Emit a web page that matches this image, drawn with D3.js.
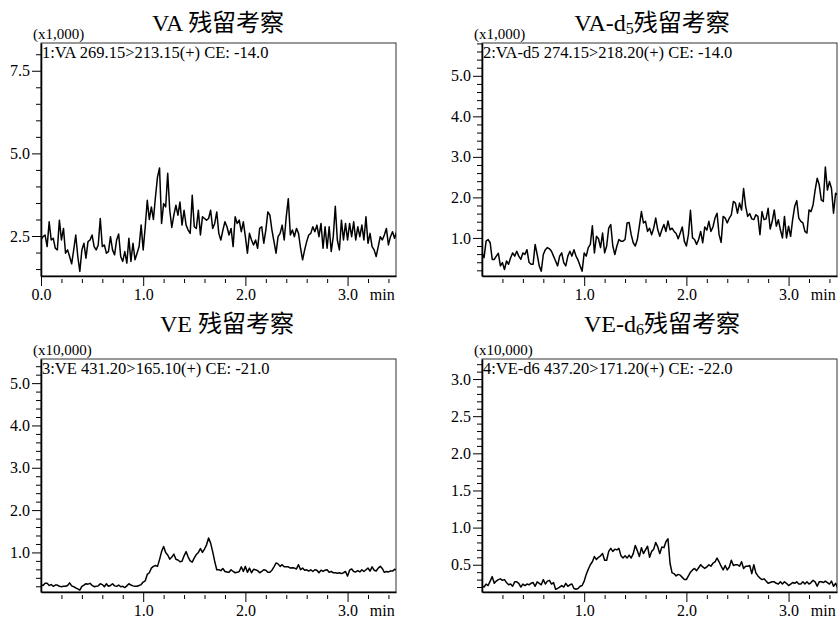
<!DOCTYPE html>
<html>
<head>
<meta charset="utf-8">
<script src="https://cdnjs.cloudflare.com/ajax/libs/d3/7.8.5/d3.min.js"></script>
<style>
  body { margin: 0; background: #fff; }
  svg text { font-family: "Liberation Serif", "Times New Roman", "Noto Sans CJK SC", serif; fill: #000; }
</style>
</head>
<body>
<svg id="chart" width="839" height="620"></svg>
<script>
// sampling step of every trace (min)
var timeStep = 0.02
  , timeMax = 3.474;

// intensities, one value per timeStep from 0.0 min
var vaValues = [2.38,2.48,2.53,2.18,2.93,2.38,2.43,2.13,2.08,2.98,
  2.38,2.73,1.98,2.08,1.88,1.66,2.08,2.53,1.88,1.43,
  2.08,2.28,1.83,2.33,2.38,2.53,2.18,2.08,2.23,3.03,
  2.18,2.23,1.98,2.03,2.48,2.08,1.93,2.38,2.56,1.88,
  1.73,2.03,1.68,2.43,1.73,2.28,1.78,1.98,2.18,2.83,
  2.08,2.78,3.58,3.00,3.38,3.00,3.68,4.28,4.56,2.88,
  3.48,3.38,4.40,3.28,2.76,3.13,3.43,3.13,3.53,2.83,
  3.28,2.83,2.68,2.58,3.73,2.78,2.73,3.28,2.53,3.08,
  3.03,2.98,3.03,3.28,2.73,2.88,3.23,2.58,2.38,2.68,
  2.93,2.78,2.53,2.73,2.18,3.08,2.88,2.98,2.63,2.93,
  2.48,1.98,2.58,2.38,2.23,2.38,2.13,2.73,2.78,2.28,
  2.68,3.23,3.13,2.68,2.33,1.98,2.48,2.58,2.83,2.38,
  3.08,3.63,2.53,2.68,2.48,2.73,2.58,2.13,1.78,2.08,
  2.33,2.53,2.58,2.78,2.63,2.83,2.48,2.88,2.13,2.78,
  2.13,2.78,2.03,2.48,3.40,2.38,2.08,2.98,2.38,2.88,
  2.38,2.88,2.48,2.93,2.38,2.78,2.48,2.83,2.38,3.08,
  2.28,2.58,2.18,2.08,1.88,2.18,2.48,2.38,2.53,2.73,
  2.23,2.48,2.63,2.43,2.63];

var vad5Values = [0.63,0.51,0.92,0.96,0.88,0.47,0.47,0.55,0.62,0.31,
  0.39,0.22,0.43,0.35,0.51,0.63,0.55,0.67,0.55,0.47,
  0.63,0.59,0.71,0.40,0.35,0.35,0.84,0.59,0.31,0.18,
  0.59,0.71,0.76,0.73,0.67,0.55,0.43,0.31,0.55,0.63,
  0.39,0.31,0.55,0.67,0.55,0.71,0.55,0.45,0.31,0.18,
  0.63,0.55,0.76,0.84,1.30,0.63,1.04,0.98,0.76,1.12,
  0.63,0.80,1.24,1.33,0.80,0.59,0.80,0.96,0.92,0.92,
  0.96,1.37,1.38,1.08,0.88,0.80,0.96,1.29,1.65,1.37,
  1.41,1.16,1.24,1.08,1.24,1.49,1.20,1.04,1.20,1.33,
  1.16,1.42,1.20,1.24,1.16,1.11,0.98,1.12,1.27,0.92,
  0.80,1.08,1.68,1.00,0.96,0.84,0.96,1.16,0.88,1.27,
  1.19,1.41,1.16,1.27,1.49,1.61,1.08,0.89,1.53,1.49,
  1.37,1.49,1.57,1.90,1.86,1.61,1.86,1.69,2.22,1.78,
  1.53,1.60,1.47,1.45,1.57,1.53,1.08,1.65,1.45,1.47,
  1.73,1.22,1.41,1.69,1.29,1.45,1.20,1.00,1.53,1.00,
  1.29,1.04,1.45,1.78,1.92,1.49,1.41,1.37,1.16,1.12,
  1.69,1.65,1.82,2.18,2.47,2.31,1.94,1.90,2.75,2.18,
  2.39,2.22,1.61,2.10,2.06];

var veValues = [0.24,0.22,0.27,0.27,0.22,0.24,0.20,0.23,0.23,0.20,
  0.19,0.20,0.20,0.22,0.28,0.21,0.19,0.16,0.14,0.11,
  0.20,0.23,0.26,0.25,0.27,0.22,0.19,0.20,0.21,0.26,
  0.24,0.19,0.26,0.20,0.22,0.26,0.21,0.20,0.23,0.19,
  0.20,0.17,0.21,0.26,0.23,0.21,0.20,0.20,0.22,0.24,
  0.30,0.33,0.48,0.52,0.63,0.67,0.69,0.67,0.83,1.02,
  1.14,1.00,0.94,0.84,0.89,0.96,0.84,0.82,0.78,0.79,
  0.92,1.02,0.89,0.80,0.77,0.87,0.95,1.00,1.09,1.00,
  1.08,1.18,1.34,1.22,1.02,0.79,0.59,0.59,0.57,0.62,
  0.55,0.54,0.53,0.59,0.55,0.52,0.53,0.55,0.66,0.55,
  0.67,0.53,0.63,0.52,0.60,0.59,0.57,0.52,0.55,0.59,
  0.58,0.53,0.53,0.58,0.66,0.75,0.73,0.67,0.71,0.66,
  0.66,0.66,0.63,0.64,0.63,0.61,0.71,0.59,0.63,0.58,
  0.59,0.56,0.59,0.55,0.59,0.58,0.52,0.58,0.55,0.58,
  0.59,0.53,0.55,0.52,0.52,0.51,0.52,0.50,0.52,0.55,
  0.44,0.58,0.61,0.55,0.54,0.57,0.54,0.59,0.55,0.59,
  0.63,0.56,0.66,0.58,0.56,0.63,0.67,0.62,0.53,0.55,
  0.54,0.56,0.56,0.60,0.59];

var ved6Values = [0.21,0.20,0.24,0.22,0.28,0.34,0.25,0.28,0.30,0.31,
  0.29,0.30,0.26,0.23,0.24,0.21,0.27,0.27,0.25,0.20,
  0.24,0.22,0.24,0.23,0.25,0.26,0.21,0.27,0.25,0.23,
  0.30,0.24,0.28,0.29,0.24,0.26,0.17,0.18,0.20,0.22,
  0.20,0.25,0.21,0.23,0.24,0.18,0.17,0.18,0.21,0.22,
  0.28,0.37,0.44,0.50,0.54,0.61,0.57,0.60,0.62,0.65,
  0.56,0.56,0.68,0.72,0.68,0.71,0.70,0.72,0.62,0.59,
  0.62,0.59,0.63,0.59,0.65,0.76,0.69,0.61,0.73,0.65,
  0.70,0.75,0.60,0.68,0.71,0.80,0.74,0.65,0.74,0.73,
  0.81,0.85,0.52,0.39,0.38,0.35,0.37,0.36,0.33,0.30,
  0.30,0.35,0.40,0.43,0.45,0.42,0.46,0.50,0.47,0.45,
  0.47,0.50,0.48,0.52,0.54,0.59,0.54,0.48,0.43,0.49,
  0.43,0.47,0.56,0.49,0.50,0.50,0.48,0.54,0.45,0.48,
  0.48,0.49,0.38,0.50,0.39,0.35,0.32,0.30,0.31,0.28,
  0.25,0.26,0.27,0.27,0.25,0.24,0.27,0.24,0.27,0.25,
  0.22,0.24,0.26,0.25,0.27,0.24,0.24,0.27,0.24,0.27,
  0.24,0.26,0.29,0.27,0.21,0.27,0.27,0.26,0.28,0.26,
  0.24,0.28,0.21,0.25,0.19];

// texts
var titleMain = ["VA ", "VA-d", "VE ", "VE-d"]
  , titleSub = ["", "5", "", "6"]
  , titleTail = "残留考察"
  , channelLabels = ["1:VA 269.15>213.15(+) CE: -14.0", "2:VA-d5 274.15>218.20(+) CE: -14.0",
                     "3:VE 431.20>165.10(+) CE: -21.0", "4:VE-d6 437.20>171.20(+) CE: -22.0"]
  , unitLabels = ["(x1,000)", "(x1,000)", "(x10,000)", "(x10,000)"];

// axes
var yDomains = [[1.29, 8.34], [0.06, 5.81], [0.065, 5.57], [0.133, 3.27]]
  , yMajorTicks = [[2.5, 5.0, 7.5], [1, 2, 3, 4, 5], [1, 2, 3, 4, 5], [0.5, 1.0, 1.5, 2.0, 2.5, 3.0]]
  , yMinorSteps = [0.5, 0.2, 0.2, 0.1]
  , xMajorTicks = [[0, 1, 2, 3], [1, 2, 3], [1, 2, 3], [1, 2, 3]]
  , xMinorStep = 0.2
  , xUnit = "min";

var series = [vaValues, vad5Values, veValues, ved6Values];

// panel placement on the page
var layout = [
  {left: 41, top: 43, titleX: 218, titleY: 31},
  {left: 482, top: 43, titleX: 652, titleY: 31},
  {left: 41, top: 359, titleX: 227, titleY: 332},
  {left: 482, top: 359, titleX: 662, titleY: 332}
];

function Chromatogram(){
  var width = 355
    , height = 233;

  function stepTicks(lo, hi, step, skip){
    var out = [];
    for (var k = Math.ceil(lo / step - 1e-6); k * step <= hi + 1e-6; k++){
      var v = +(k * step).toFixed(4);
      if (!skip.some(function(m){ return Math.abs(m - v) < 1e-6; })) out.push(v);
    }
    return out;
  }

  function chart(selection){
    selection.each(function(p, n){
      var g = d3.select(this)
        , x = d3.scaleLinear().domain([0, timeMax]).range([0, width])
        , y = d3.scaleLinear().domain(p.yDomain).range([height, 0]);

      g.attr("transform", "translate(" + p.left + "," + p.top + ")");

      // clip the trace to the plot frame
      g.append("clipPath").attr("id", "clip" + n)
        .append("rect").attr("width", width).attr("height", height);

      // frame
      g.append("rect")
        .attr("width", width).attr("height", height)
        .attr("fill", "none").attr("stroke", "#333").attr("stroke-width", 1);

      // y axis: minor then major
      var yMinor = stepTicks(p.yDomain[0], p.yDomain[1], p.yMinorStep, p.yMajor);
      g.append("g")
        .call(d3.axisLeft(y).tickValues(yMinor).tickSize(5).tickSizeOuter(0).tickFormat(""))
        .call(function(a){ a.select(".domain").remove(); });
      g.append("g")
        .call(d3.axisLeft(y).tickValues(p.yMajor).tickSize(9).tickSizeOuter(0)
          .tickPadding(2).tickFormat(d3.format(".1f")))
        .call(function(a){
          a.select(".domain").attr("stroke-width", 1.6);
          a.selectAll("text").style("font-size", "16px").attr("font-family", null);
        });

      // x axis: minor ticks hang a little below the line
      var xMinor = stepTicks(xMinorStep, timeMax, xMinorStep, [0, 1, 2, 3]);
      g.append("g")
        .attr("transform", "translate(0," + (height + 3) + ")")
        .call(d3.axisBottom(x).tickValues(xMinor).tickSize(4).tickSizeOuter(0).tickFormat(""))
        .call(function(a){ a.select(".domain").remove(); });
      g.append("g")
        .attr("transform", "translate(0," + height + ")")
        .call(d3.axisBottom(x).tickValues(p.xMajor).tickSize(10).tickSizeOuter(0)
          .tickPadding(3).tickFormat(d3.format(".1f")))
        .call(function(a){
          a.select(".domain").attr("stroke-width", 1.6);
          a.selectAll("text").style("font-size", "16px").attr("font-family", null);
        });

      g.append("text")
        .attr("x", x(3.34)).attr("y", height + 24)
        .attr("text-anchor", "middle")
        .style("font-size", "16px")
        .text(xUnit);

      // trace
      var line = d3.line()
        .x(function(d, i){ return x(i * timeStep); })
        .y(function(d){ return y(d); });
      g.append("path")
        .datum(p.values)
        .attr("clip-path", "url(#clip" + n + ")")
        .attr("d", line)
        .attr("fill", "none")
        .attr("stroke", "#000")
        .attr("stroke-width", 1.5)
        .attr("stroke-linejoin", "round");

      // channel label inside the frame, unit label above
      g.append("text")
        .attr("x", 1).attr("y", 15)
        .style("font-size", "16.5px")
        .text(p.channel);
      g.append("text")
        .attr("x", -8).attr("y", -4)
        .style("font-size", "15px")
        .text(p.unit);
    });
  }

  chart.width = function(w) {
    if (!arguments.length) { return width; }
    width = w;
    return chart;
  };

  chart.height = function(h) {
    if (!arguments.length) { return height; }
    height = h;
    return chart;
  };

  return chart;
}

var panels = series.map(function(values, i){
  return {
    values: values,
    yDomain: yDomains[i],
    yMajor: yMajorTicks[i],
    yMinorStep: yMinorSteps[i],
    xMajor: xMajorTicks[i],
    channel: channelLabels[i],
    unit: unitLabels[i],
    left: layout[i].left,
    top: layout[i].top
  };
});

var svg = d3.select("#chart");

svg.selectAll(".panel")
  .data(panels)
 .enter().append("g")
  .attr("class", "panel")
  .call(Chromatogram());

// titles, with the deuterium count as a subscript
var titles = svg.selectAll(".title")
  .data(layout)
 .enter().append("text")
  .attr("class", "title")
  .attr("x", function(d){ return d.titleX; })
  .attr("y", function(d){ return d.titleY; })
  .attr("text-anchor", "middle")
  .style("font-size", "24px");
titles.append("tspan").text(function(d, i){ return titleMain[i]; });
titles.append("tspan")
  .style("font-size", "16px")
  .attr("dy", function(d, i){ return titleSub[i] ? 3 : 0; })
  .text(function(d, i){ return titleSub[i]; });
titles.append("tspan")
  .attr("dy", function(d, i){ return titleSub[i] ? -3 : 0; })
  .text(titleTail);
</script>
</body>
</html>
